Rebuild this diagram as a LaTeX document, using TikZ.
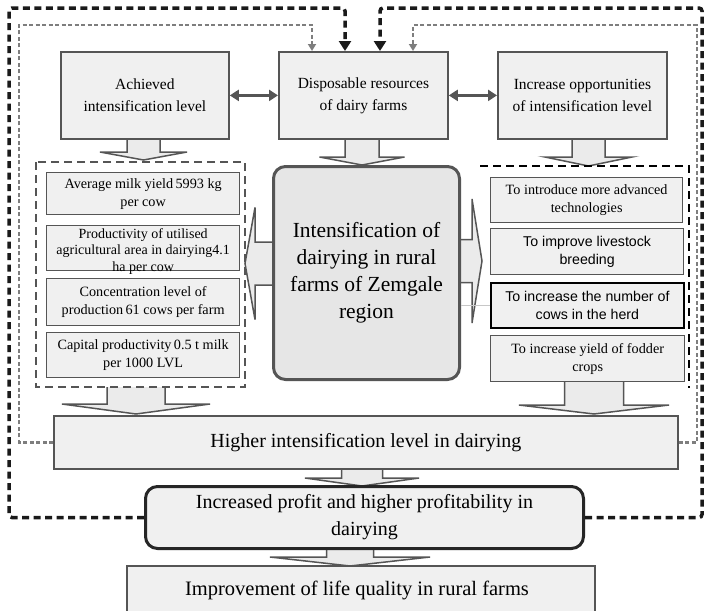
\documentclass[tikz,border=0pt]{standalone}
\usepackage{fontspec}
\setmainfont{Liberation Serif}
\newfontfamily\arialf{Liberation Sans}
\usetikzlibrary{arrows.meta}
\definecolor{bdr}{HTML}{555555}
\definecolor{boxfill}{HTML}{F0F0F0}
\definecolor{cfill}{HTML}{E6E6E6}
\definecolor{arrfill}{HTML}{EBEBEB}
\definecolor{graydash}{HTML}{7E7E7E}
\definecolor{blackdash}{HTML}{1A1A1A}
\newcommand\blkdown[6]{\filldraw[blk] (#1-#5,#2) -- (#1-#5,#3) -- (#1-#6,#3) -- (#1,#4) -- (#1+#6,#3) -- (#1+#5,#3) -- (#1+#5,#2);}
\newcommand\blkh[6]{\filldraw[blk] (#2,#1-#5) -- (#3,#1-#5) -- (#3,#1-#6) -- (#4,#1) -- (#3,#1+#6) -- (#3,#1+#5) -- (#2,#1+#5);}
\begin{document}
\begin{tikzpicture}[x=1pt,y=-1pt,
  blk/.style={fill=arrfill,draw=bdr,line width=1.5pt,line join=miter},
  topbox/.style={draw=bdr,line width=1.8pt,fill=boxfill,anchor=north west,inner sep=0pt,
     minimum height=87pt,align=center,font=\fontsize{15.5}{22}\selectfont},
  ibox/.style={draw=bdr,line width=1.3pt,fill=boxfill,anchor=north west,inner sep=0pt},
  itext/.style={align=center,inner sep=0pt,font=\fontsize{14.2}{18}\selectfont},
  rtext/.style={align=center,inner sep=0pt,font=\fontsize{14.2}{18}\selectfont},
  stext/.style={align=center,inner sep=0pt,font=\arialf\fontsize{14.2}{18}\selectfont},
  dbl/.style={{Triangle[length=9pt,width=11pt]}-{Triangle[length=9pt,width=11pt]},draw=bdr,line width=3pt},
  fbk/.style={draw=blackdash,line width=3.5pt,dash pattern=on 7pt off 4.5pt,rounded corners=3pt,-{Triangle[length=10pt,width=12pt]}},
  fbg/.style={draw=graydash,line width=2.2pt,dash pattern=on 4pt off 2.5pt,-{Triangle[length=7pt,width=8pt]}},
]
\useasboundingbox (0,0) rectangle (705,611);
\fill[white] (0,0) rectangle (705,611);

% block arrows (drawn first)
\blkdown{143.5}{135}{152}{160}{16.5}{43.5}
\blkdown{362}{135}{157}{165}{17}{42.5}
\blkdown{588.5}{135}{157}{166}{16.5}{43.5}
\blkh{263.5}{276}{255}{245}{21.5}{56}
\blkh{261}{454}{472}{482}{21.5}{62}
\blkdown{136}{387}{404}{414}{29}{74}
\blkdown{594}{380}{405}{414}{29.5}{75}
\blkdown{362}{464}{478}{486}{20.5}{57}
\blkdown{350}{543}{557}{566}{23.5}{80}

% top boxes
\node[topbox,minimum width=168pt] (ach) at (60,51) {Achieved\\intensification level};
\node[topbox,minimum width=169pt] (disp) at (278,51) {Disposable resources\\of dairy farms};
\node[topbox,minimum width=169pt] (inc) at (497,51) {Increase opportunities\\of intensification level};
\draw[dbl] (ach.east) -- (disp.west);
\draw[dbl] (disp.east) -- (inc.west);

% left dashed frame
\draw[draw=bdr,line width=1.5pt,dash pattern=on 8pt off 5pt] (36,162) rectangle (245,387);
% right dashed frame (top and right sides only)
\draw[draw=black,line width=2pt,dash pattern=on 8pt off 5pt] (480,166) -- (689,166) -- (689,388);

% center box
\node[draw=bdr,line width=3pt,fill=cfill,rounded corners=12pt,anchor=north west,
  minimum width=186pt,minimum height=213pt,inner sep=0pt,align=center,
  font=\fontsize{21.5}{27}\selectfont] (cen) at (272,165)
  {Intensification of\\dairying in rural\\farms of Zemgale\\region};

% left inner boxes
\node[ibox,minimum width=193pt,minimum height=42pt] (l1) at (46,172) {};
\node[itext] (l1t) at (l1.center) {Average milk yield\,5993 kg\\per cow};
\node[ibox,minimum width=193pt,minimum height=45pt] (l2) at (46,225) {};
\node[itext,font=\fontsize{14}{16.5}\selectfont] (l2t) at ([yshift=-3pt]l2.center) {Productivity of utilised\\agricultural area in dairying4.1\\ha per cow};
\node[ibox,minimum width=193pt,minimum height=47pt] (l3) at (46,278) {};
\node[itext] (l3t) at (l3.center) {Concentration level of\\production\,61 cows per farm};
\node[ibox,minimum width=193pt,minimum height=45pt] (l4) at (46,332) {};
\node[itext] (l4t) at (l4.center) {Capital productivity\,0.5 t milk\\per 1000 LVL};

% right inner boxes
\node[ibox,minimum width=192pt,minimum height=45pt] (r1) at (490,177) {};
\node[rtext] (r1t) at (r1.center) {To introduce more advanced\\technologies};
\node[ibox,minimum width=193pt,minimum height=46pt] (r2) at (490,228) {};
\node[stext] (r2t) at (r2.center) {To improve livestock\\breeding};
\node[ibox,draw=black,line width=1.8pt,minimum width=193pt,minimum height=45pt] (r3) at (490,282) {};
\node[stext] (r3t) at (r3.center) {To increase the number of\\cows in the herd};
\node[ibox,minimum width=194pt,minimum height=46pt] (r4) at (490,335) {};
\node[rtext] (r4t) at (r4.center) {To increase yield of fodder\\crops};
\draw[draw=black!22,line width=0.8pt] (r3.west) -- (r3.west -| cen.east);

% lower boxes
\node[draw=bdr,line width=1.8pt,fill=boxfill,anchor=north west,minimum width=624pt,minimum height=53pt,
  inner sep=0pt,font=\fontsize{20}{24}\selectfont] (high) at (53,415) {Higher intensification level in dairying};
\node[draw=black!85,line width=3pt,fill=boxfill,rounded corners=12pt,anchor=north west,minimum width=438pt,
  minimum height=62pt,inner sep=0pt,align=center,font=\fontsize{20}{27}\selectfont] (prof) at (144,485)
  {Increased profit and higher profitability in\\dairying};
\node[draw=bdr,line width=1.8pt,fill=boxfill,anchor=north west,minimum width=468pt,minimum height=50pt,
  inner sep=0pt] (impr) at (126,565) {};
\node[font=\fontsize{20.5}{24}\selectfont,inner sep=0pt] (imprt) at (357,590) {Improvement of life quality in rural farms};

% feedback dashed connectors
\coordinate (kL) at (345,51);
\coordinate (kR) at (380,51);
\coordinate (gL) at (312,51);
\coordinate (gR) at (413,51);
\draw[fbg] (high.west) -| (19,25) -| (gL);
\draw[fbg] (high.east) -| (697,25) -| (gR);
\draw[fbk] (prof.west) -| (9,8) -| (kL);
\draw[fbk] (prof.east) -| (702,8) -| (kR);
\end{tikzpicture}
\end{document}
